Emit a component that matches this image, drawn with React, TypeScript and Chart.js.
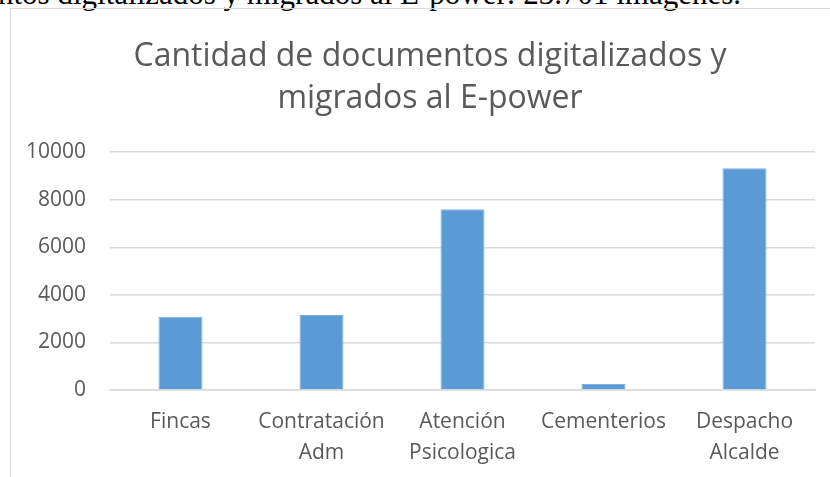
import React, { useEffect, useRef } from "react";
import { Chart, registerables } from "chart.js";

Chart.register(...registerables);

const categories: string[][] = [
  ["Fincas"],
  ["Contratación", "Adm"],
  ["Atención", "Psicologica"],
  ["Cementerios"],
  ["Despacho", "Alcalde"],
];
const values: number[] = [3080, 3150, 7600, 250, 9330];
const yTicks: number[] = [0, 2000, 4000, 6000, 8000, 10000];
const titleLines: string[] = ["Cantidad de documentos digitalizados y", "migrados al E-power"];
const headerText = "ntos digitalizados y migrados al E-power: 23.701 imágenes.";

const FONT = "'Open Sans', 'Noto Sans', sans-serif";

export default function App() {
  const ref = useRef<HTMLCanvasElement | null>(null);

  useEffect(() => {
    if (!ref.current) return;
    const chart = new Chart(ref.current, {
      type: "bar",
      data: {
        labels: categories,
        datasets: [
          {
            data: values,
            backgroundColor: "#5b9bd5",
            borderColor: "#7eb0dd",
            borderWidth: 1,
            categoryPercentage: 1,
            barPercentage: 0.312,
            yAxisID: "y",
          },
        ],
      },
      options: {
        animation: false,
        responsive: false,
        maintainAspectRatio: false,
        layout: { padding: 0 },
        plugins: {
          legend: { display: false },
          tooltip: { enabled: false },
          title: {
            display: true,
            text: titleLines,
            color: "#595959",
            font: { family: FONT, size: 32, weight: "normal", lineHeight: 1.3 },
            padding: { top: 27, bottom: 33 },
          },
        },
        scales: {
          x: {
            grid: { display: false, drawTicks: false },
            border: { display: true, color: "#d9d9d9", width: 1.5 },
            ticks: {
              color: "#595959",
              font: { family: FONT, size: 21, lineHeight: 1.45 },
              padding: 17,
              maxRotation: 0,
              autoSkip: false,
            },
            afterFit: (s: any) => {
              s.height = 86;
            },
          },
          y: {
            position: "left",
            min: 0,
            max: 10000,
            afterBuildTicks: (s: any) => {
              s.ticks = yTicks.map((v) => ({ value: v }));
            },
            grid: { color: "#d9d9d9", lineWidth: 1.5, drawTicks: false },
            border: { display: false },
            ticks: {
              color: "#595959",
              font: { family: FONT, size: 21 },
              padding: 24,
              callback: (v: any) => String(v),
            },
            afterFit: (s: any) => {
              s.width = 99;
            },
          },
          yRight: {
            position: "right",
            min: 0,
            max: 10000,
            grid: { display: false, drawTicks: false },
            border: { display: false },
            ticks: { display: false },
            afterFit: (s: any) => {
              s.width = 34;
            },
          },
        },
      },
    });
    return () => chart.destroy();
  }, []);

  return (
    <div
      style={{
        position: "absolute",
        left: 0,
        top: 0,
        width: 830,
        height: 477,
        overflow: "hidden",
        background: "#fff",
      }}
    >
      <div
        style={{
          position: "absolute",
          left: -2,
          top: -23,
          whiteSpace: "nowrap",
          fontFamily: "'Liberation Serif', 'DejaVu Serif', serif",
          fontSize: 31,
          lineHeight: "34px",
          color: "#000",
        }}
      >
        {headerText}
      </div>
      <div
        style={{
          position: "absolute",
          left: 10,
          top: 8,
          width: 840,
          height: 480,
          borderLeft: "1.5px solid #d9d9d9",
          borderTop: "1.5px solid #d9d9d9",
          boxSizing: "border-box",
        }}
      >
        <canvas ref={ref} width={838} height={467} style={{ display: "block" }} />
      </div>
    </div>
  );
}
